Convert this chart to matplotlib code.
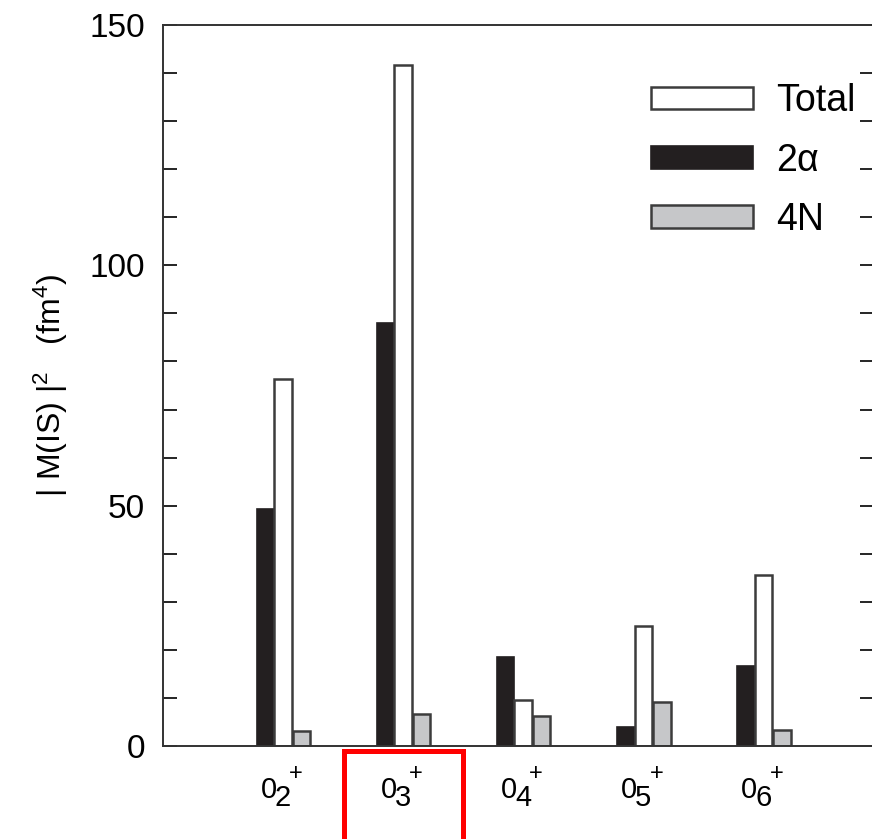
import numpy as np
import matplotlib
matplotlib.use('Agg')
import matplotlib.pyplot as plt
from matplotlib.patches import Rectangle

plt.rcParams['font.family'] = ['Liberation Sans', 'DejaVu Sans']
plt.rcParams['mathtext.fontset'] = 'custom'
plt.rcParams['mathtext.rm'] = 'Liberation Sans'
plt.rcParams['mathtext.it'] = 'Liberation Sans'
plt.rcParams['mathtext.default'] = 'rm'

# data: states 0_n^+
state_n = ['2', '3', '4', '5', '6']
alpha2 = [49.3, 88.0, 18.5, 4.0, 16.7]
total = [76.3, 141.6, 9.6, 25.0, 35.6]
nucl4 = [3.1, 6.7, 6.2, 9.1, 3.3]

W, H = 872, 839
fig = plt.figure(figsize=(W / 100, H / 100), dpi=100)
ax = fig.add_axes([163 / W, 1 - 746 / H, (W - 163) / W + 0.002, (746 - 25) / H])

x = np.arange(1, len(state_n) + 1)
bw = 0.145
edge = '#3c3c3c'
ax.bar(x - bw, alpha2, bw, color='#231f20', edgecolor='#231f20', lw=1.2, label=r'2$\alpha$')
ax.bar(x, total, bw, color='white', edgecolor=edge, lw=1.8, label='Total')
ax.bar(x + bw + 0.01, nucl4, bw, color='#c6c7c9', edgecolor=edge, lw=1.8, label='4N')

ax.set_xlim(0, 5.92)
ax.set_ylim(0, 150)
ax.set_yticks([0, 50, 100, 150])
ax.set_yticks(np.arange(0, 151, 10), minor=True)
ax.set_xticks(x)
ax.set_xticklabels([])
ax.tick_params(axis='y', which='both', direction='in', length=10, width=1.2,
               right=True, labelsize=24, pad=13)
ax.tick_params(axis='x', length=0)
for s in ax.spines.values():
    s.set_linewidth(1.4)
    s.set_color('#333333')

# state labels: "0", lowered index, raised "+"
def put(txt, xi, dx, dy, size, va):
    ax.annotate(txt, xy=(xi, 0), xycoords=('data', 'axes fraction'),
                xytext=(dx, dy), textcoords='offset points',
                ha='center', va=va, fontsize=size, annotation_clip=False)

for xi, n in zip(x, state_n):
    put('0', xi, -10, -37.4, 21, 'baseline')
    put(n, xi, 0, -43.5, 21, 'baseline')
    put('+', xi, 9.4, -20, 17, 'center')

ax.set_ylabel(r'| M(IS) |$^2$   (fm$^4$)', fontsize=23, labelpad=14)

h, l = ax.get_legend_handles_labels()
order = [1, 0, 2]
ax.legend([h[i] for i in order], [l[i] for i in order], loc='upper left',
          bbox_to_anchor=(0.687, 0.919), frameon=False, fontsize=27,
          handlelength=2.72, handleheight=0.55, labelspacing=0.62,
          handletextpad=0.6, borderpad=0, borderaxespad=0)

# red highlight box around the 0_3+ label
fig.patches.append(Rectangle((344 / W, 1 - 860 / H), (463 - 344) / W, (860 - 751) / H,
                             transform=fig.transFigure, fill=False,
                             edgecolor='#ff0000', lw=3.6))

fig.savefig('out.png', dpi=100)
